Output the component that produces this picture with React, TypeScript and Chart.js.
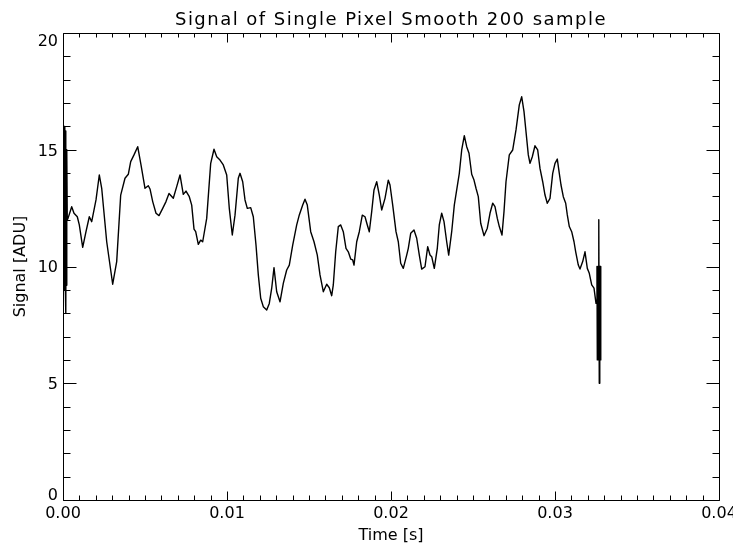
import React, { useEffect, useRef } from "react";
import { Chart, registerables } from "chart.js";

Chart.register(...registerables);

const chartTitle = "Signal of Single Pixel Smooth 200 sample";
const xAxisTitle = "Time [s]";
const yAxisTitle = "Signal [ADU]";

const xMin = 0;
const xMax = 0.04;
const xStep = 0.01;
const xMinorPerMajor = 10;
const yMin = 0;
const yMax = 20;
const yStep = 5;
const yMinorPerMajor = 5;

// unsmoothed samples at the start edge
const startEdgeTimes = [0, 0.00002, 0.00004, 0.00006, 0.00008, 0.0001, 0.00012, 0.00014, 0.00016, 0.00018, 0.0002, 0.00022, 0.00024, 0.00026];
const startEdgeValues = [16, 9, 15.8, 9.1, 16, 9, 15.5, 9.2, 15.8, 8, 14.5, 9.2, 15, 12];

// smoothed signal
const signalTimes = [
  0.000305, 0.00053, 0.000671, 0.000872, 0.000994, 0.001201, 0.001402, 0.001604, 0.00175, 0.002012,
  0.002213, 0.00236, 0.002665, 0.00303, 0.003274, 0.003518, 0.00378, 0.003982, 0.004128, 0.004329,
  0.004555, 0.004756, 0.005, 0.005201, 0.005305, 0.00547, 0.005671, 0.005854, 0.006079, 0.00628,
  0.006463, 0.006726, 0.006933, 0.007134, 0.007335, 0.0075, 0.007701, 0.007848, 0.007988, 0.008091,
  0.00825, 0.008396, 0.008518, 0.008762, 0.009006, 0.009207, 0.009372, 0.009573, 0.009774, 0.009982,
  0.01014, 0.010323, 0.010488, 0.010689, 0.010793, 0.010957, 0.011098, 0.011238, 0.011445, 0.011604,
  0.011768, 0.011909, 0.012055, 0.012213, 0.012421, 0.012579, 0.012726, 0.012866, 0.01303, 0.013232,
  0.013433, 0.01364, 0.013799, 0.014006, 0.01425, 0.014409, 0.014616, 0.014756, 0.014896, 0.015104,
  0.015305, 0.015506, 0.015671, 0.015872, 0.016079, 0.016238, 0.016384, 0.016482, 0.016628, 0.016787,
  0.016933, 0.017091, 0.017256, 0.017396, 0.017543, 0.017665, 0.017744, 0.017909, 0.018067, 0.01825,
  0.018415, 0.018555, 0.018677, 0.018823, 0.018963, 0.019128, 0.019287, 0.019433, 0.019634, 0.019835,
  0.019939, 0.020104, 0.020305, 0.020445, 0.020591, 0.02075, 0.020957, 0.021055, 0.021201, 0.021402,
  0.021567, 0.021726, 0.021872, 0.022073, 0.022238, 0.022378, 0.022482, 0.02264, 0.022823, 0.022945,
  0.023091, 0.023232, 0.023396, 0.023518, 0.023701, 0.02386, 0.024006, 0.024165, 0.024311, 0.02447,
  0.024616, 0.024756, 0.024921, 0.025061, 0.025183, 0.025323, 0.02547, 0.025671, 0.025872, 0.026037,
  0.026201, 0.026341, 0.026482, 0.026604, 0.026768, 0.02689, 0.027012, 0.027213, 0.027421, 0.027622,
  0.027823, 0.02797, 0.02811, 0.028232, 0.028372, 0.028476, 0.028616, 0.02878, 0.028945, 0.029085,
  0.02925, 0.02939, 0.02953, 0.029695, 0.02986, 0.03, 0.03014, 0.030262, 0.030366, 0.030506,
  0.030652, 0.03075, 0.030872, 0.031018, 0.031159, 0.031262, 0.031421, 0.031524, 0.031689, 0.031829,
  0.03197, 0.032091, 0.032238, 0.032378, 0.0325,
];
const signalValues = [
  12.06, 12.56, 12.28, 12.13, 11.78, 10.82, 11.49, 12.13, 11.92, 12.85,
  13.92, 13.35, 11.06, 9.24, 10.21, 13.06, 13.78, 13.95, 14.49, 14.78,
  15.13, 14.35, 13.35, 13.46, 13.32, 12.78, 12.28, 12.18, 12.49, 12.78,
  13.13, 12.92, 13.42, 13.92, 13.09, 13.23, 12.99, 12.63, 11.6, 11.49,
  10.95, 11.13, 11.06, 12.06, 14.42, 15.02, 14.7, 14.56, 14.35, 13.92,
  12.49, 11.35, 12.2, 13.78, 13.99, 13.63, 12.85, 12.49, 12.52, 12.13,
  10.92, 9.64, 8.64, 8.28, 8.14, 8.42, 9.07, 9.95, 8.92, 8.49,
  9.28, 9.85, 10.06, 10.92, 11.78, 12.21, 12.63, 12.88, 12.63, 11.49,
  11.06, 10.49, 9.64, 8.92, 9.24, 9.09, 8.75, 9.21, 10.63, 11.71,
  11.78, 11.49, 10.78, 10.63, 10.32, 10.28, 10.06, 11.06, 11.49, 12.2,
  12.13, 11.78, 11.49, 12.35, 13.28, 13.63, 13.06, 12.42, 12.92, 13.7,
  13.49, 12.63, 11.49, 11.06, 10.14, 9.92, 10.49, 10.78, 11.42, 11.56,
  11.21, 10.49, 9.89, 9.99, 10.85, 10.49, 10.42, 9.92, 10.78, 11.78,
  12.28, 11.92, 11.06, 10.49, 11.49, 12.63, 13.28, 13.99, 14.99, 15.6,
  15.13, 14.85, 13.95, 13.7, 13.35, 12.99, 11.85, 11.32, 11.64, 12.28,
  12.71, 12.56, 12.06, 11.71, 11.35, 12.35, 13.63, 14.78, 14.99, 15.85,
  16.92, 17.27, 16.63, 15.77, 14.78, 14.42, 14.7, 15.17, 14.99, 14.2,
  13.63, 13.06, 12.71, 12.92, 13.99, 14.42, 14.6, 13.99, 13.49, 12.99,
  12.71, 12.21, 11.71, 11.49, 11.06, 10.63, 10.06, 9.89, 10.21, 10.63,
  9.92, 9.71, 9.21, 9.07, 8.42,
];

// unsmoothed samples at the end edge
const endEdgeTimes = [0.03256, 0.03258, 0.0326, 0.03262, 0.03264, 0.03266, 0.03268, 0.0327, 0.03272, 0.03274, 0.03276, 0.03278, 0.0328];
const endEdgeValues = [10, 6, 10, 6, 10, 6, 12, 5, 10, 6, 10, 6, 8];

const FONT = "'DejaVu Sans', 'Liberation Sans', sans-serif";

const idlFramePlugin = {
  id: "idlFrame",
  afterDraw(chart: any) {
    const { ctx, chartArea: a, scales } = chart;
    const xs = scales.x;
    const ys = scales.y;
    ctx.save();
    ctx.strokeStyle = "#000";
    ctx.lineWidth = 1;
    const L = Math.round(a.left) + 0.5;
    const R = Math.round(a.right) + 0.5;
    const T = Math.round(a.top) + 0.5;
    const B = Math.round(a.bottom) + 0.5;
    ctx.beginPath();
    ctx.moveTo(L, T);
    ctx.lineTo(R, T);
    ctx.lineTo(R, B);
    ctx.lineTo(L, B);
    ctx.closePath();
    ctx.stroke();

    // x ticks (inward, bottom and top)
    const xMajors = xs.ticks.map((t: any) => t.value);
    ctx.beginPath();
    for (let i = 0; i < xMajors.length; i++) {
      const px = Math.round(xs.getPixelForValue(xMajors[i])) + 0.5;
      ctx.moveTo(px, B);
      ctx.lineTo(px, B - 9);
      ctx.moveTo(px, T);
      ctx.lineTo(px, T + 9);
      if (i < xMajors.length - 1) {
        const d = (xMajors[i + 1] - xMajors[i]) / xMinorPerMajor;
        for (let k = 1; k < xMinorPerMajor; k++) {
          const mx = Math.round(xs.getPixelForValue(xMajors[i] + k * d)) + 0.5;
          ctx.moveTo(mx, B);
          ctx.lineTo(mx, B - 5);
          ctx.moveTo(mx, T);
          ctx.lineTo(mx, T + 4);
        }
      }
    }
    // y ticks (inward, left and right)
    const yMajors = ys.ticks.map((t: any) => t.value);
    for (let i = 0; i < yMajors.length; i++) {
      const py = Math.round(ys.getPixelForValue(yMajors[i])) + 0.5;
      ctx.moveTo(L, py);
      ctx.lineTo(L + 13, py);
      ctx.moveTo(R, py);
      ctx.lineTo(R - 13, py);
      if (i < yMajors.length - 1) {
        const d = (yMajors[i + 1] - yMajors[i]) / yMinorPerMajor;
        for (let k = 1; k < yMinorPerMajor; k++) {
          const my = Math.round(ys.getPixelForValue(yMajors[i] + k * d)) + 0.5;
          ctx.moveTo(L, my);
          ctx.lineTo(L + 7, my);
          ctx.moveTo(R, my);
          ctx.lineTo(R - 7, my);
        }
      }
    }
    ctx.stroke();

    // y tick labels (kept inside the frame's vertical extent)
    ctx.fillStyle = "#000";
    ctx.font = `16px ${FONT}`;
    ctx.textAlign = "right";
    ctx.textBaseline = "alphabetic";
    const half = 5.85;
    for (const t of ys.ticks) {
      let cy = ys.getPixelForValue(t.value);
      cy = Math.max(a.top + 7.5, Math.min(a.bottom - 6, cy));
      ctx.fillText(String(t.label), a.left - 5, cy + half);
    }

    // title
    ctx.font = `18px ${FONT}`;
    ctx.textAlign = "center";
    const cx = (a.left + a.right) / 2;
    const w = ctx.measureText(chartTitle).width;
    const target = 432;
    if ("letterSpacing" in ctx) {
      (ctx as any).letterSpacing = `${((target - w) / chartTitle.length).toFixed(2)}px`;
      ctx.fillText(chartTitle, cx, 25);
      (ctx as any).letterSpacing = "0px";
    } else {
      ctx.save();
      ctx.translate(cx, 25);
      ctx.scale(target / w, 1);
      ctx.fillText(chartTitle, 0, 0);
      ctx.restore();
    }

    // x axis title
    ctx.font = `16px ${FONT}`;
    ctx.fillText(xAxisTitle, cx, 540);

    // y axis title
    ctx.save();
    ctx.translate(25, (a.top + a.bottom) / 2);
    ctx.rotate(-Math.PI / 2);
    ctx.textAlign = "center";
    ctx.fillText(yAxisTitle, 0, 0);
    ctx.restore();

    ctx.restore();
  },
};

export default function App() {
  const canvasRef = useRef<HTMLCanvasElement | null>(null);

  useEffect(() => {
    const canvas = canvasRef.current;
    if (!canvas) return;
    const times = [...startEdgeTimes, ...signalTimes, ...endEdgeTimes];
    const values = [...startEdgeValues, ...signalValues, ...endEdgeValues];
    const points = times.map((t, i) => ({ x: t, y: values[i] }));

    const chart = new Chart(canvas, {
      type: "line",
      data: {
        datasets: [
          {
            label: "signal",
            data: points,
            borderColor: "#000",
            borderWidth: 1.4,
            pointRadius: 0,
            tension: 0,
            fill: false,
            borderJoinStyle: "round",
          },
        ],
      },
      options: {
        animation: false,
        responsive: false,
        maintainAspectRatio: false,
        devicePixelRatio: 1,
        layout: { padding: { left: 0, right: 14, top: 33, bottom: 0 } },
        plugins: {
          legend: { display: false },
          title: { display: false },
          tooltip: { enabled: false },
        },
        scales: {
          x: {
            type: "linear",
            min: xMin,
            max: xMax,
            grid: { display: false, drawTicks: false },
            border: { display: false },
            ticks: {
              stepSize: xStep,
              padding: 4,
              color: "#000",
              font: { family: FONT, size: 16 },
              maxRotation: 0,
              autoSkip: false,
              callback: (v: any) => Number(v).toFixed(2),
            },
            afterFit: (s: any) => {
              s.height = 49;
              s.paddingLeft = 0;
              s.paddingRight = 0;
            },
          },
          y: {
            type: "linear",
            min: yMin,
            max: yMax,
            grid: { display: false, drawTicks: false },
            border: { display: false },
            ticks: {
              stepSize: yStep,
              display: false,
              callback: (v: any) => String(v),
            },
            afterFit: (s: any) => {
              s.width = 63;
              s.paddingTop = 0;
              s.paddingBottom = 0;
            },
          },
        },
      },
      plugins: [idlFramePlugin],
    } as any);

    return () => chart.destroy();
  }, []);

  return (
    <div style={{ position: "fixed", left: 0, top: 0, width: 733, height: 549, background: "#fff" }}>
      <canvas ref={canvasRef} width={733} height={549} style={{ display: "block" }} />
    </div>
  );
}
